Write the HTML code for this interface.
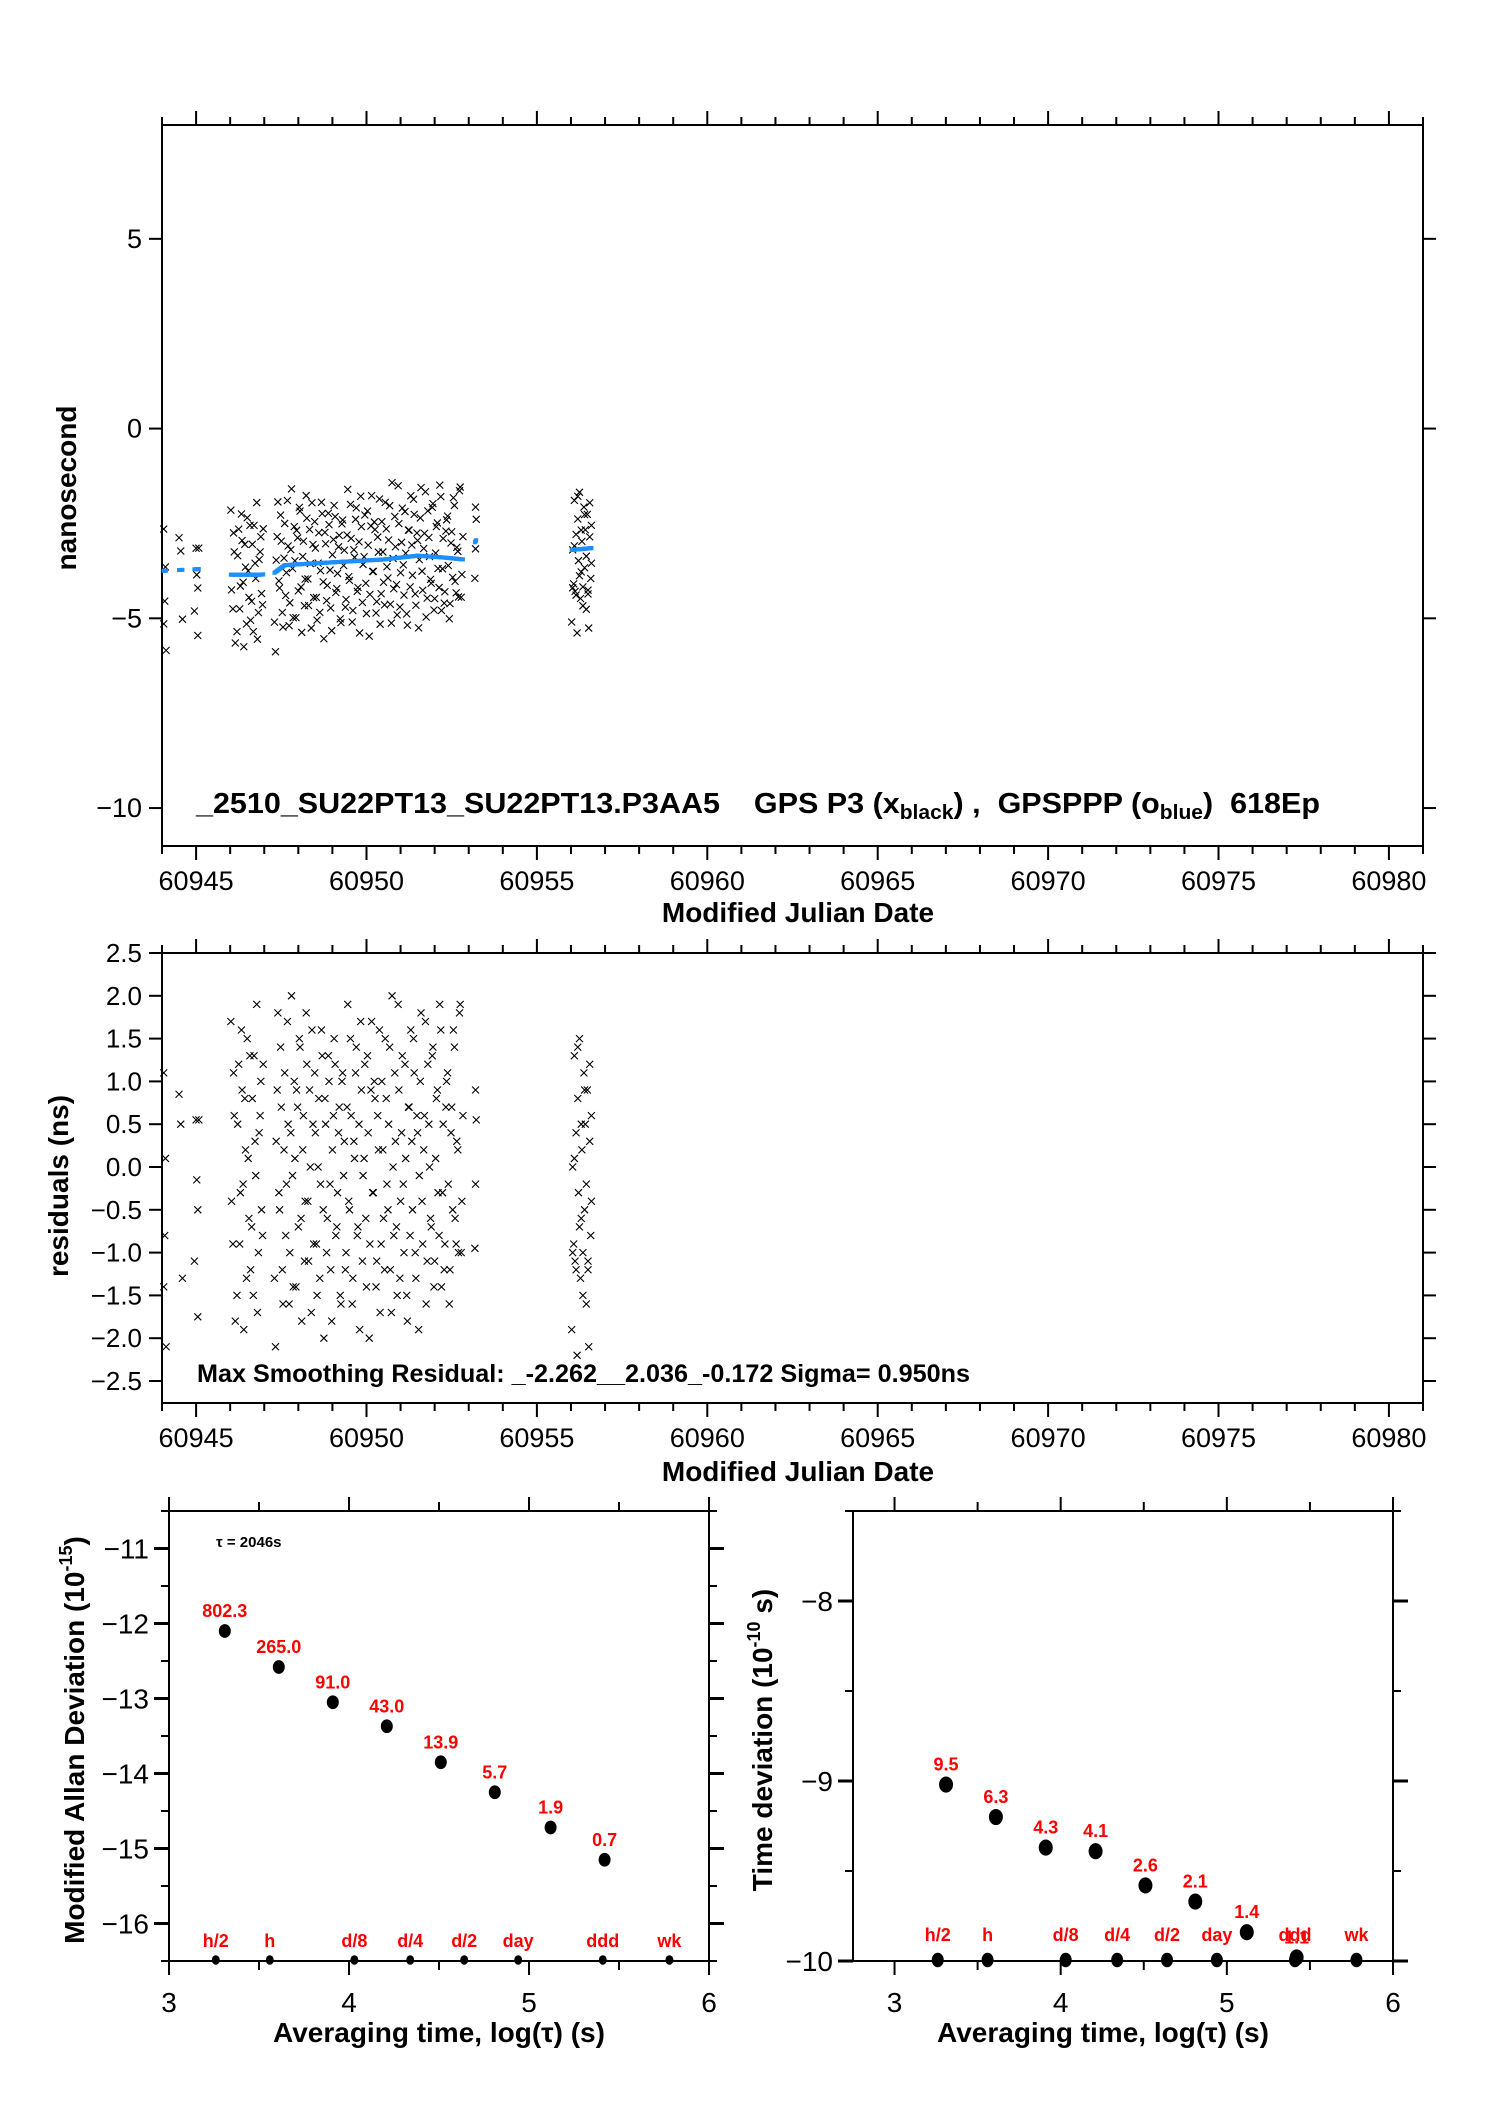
<!DOCTYPE html>
<html><head><meta charset="utf-8"><style>
html,body{margin:0;padding:0;background:#fff}
svg{display:block}
text{font-family:"Liberation Sans",sans-serif}
</style></head><body>
<svg id="chart" width="1488" height="2105" viewBox="0 0 1488 2105" xmlns="http://www.w3.org/2000/svg"></svg>
<script>
// ---- data ----
const mjdA=[60944.05,60944.05,60944.1,60944.08,60944.12,60944.5,60944.55,60944.6,60945.0,60945.05,60945.02,60945.05,60944.95,60945.08,60953.2,60953.22,60953.2,60953.18];
const resA=[1.1,-1.4,0.1,-0.8,-2.1,0.85,0.5,-1.3,0.55,-0.5,-0.15,-1.75,-1.1,0.55,0.9,0.55,-0.2,-0.95];
const mjdB=[60946.02,60946.08,60946.12,60946.2,60946.25,60946.3,60946.35,60946.4,60946.45,60946.5,
60946.55,60946.6,60946.65,60946.7,60946.75,60946.8,60946.85,60946.9,60946.95,60947.3,
60947.35,60947.4,60947.45,60947.5,60947.55,60947.6,60947.65,60947.7,60947.75,60947.8,
60947.85,60947.9,60947.95,60948.0,60948.05,60948.1,60948.15,60948.2,60948.25,60948.3,
60948.35,60948.4,60948.45,60948.5,60948.55,60948.6,60948.65,60948.7,60948.75,60948.8,
60948.85,60948.9,60948.95,60949.0,60949.05,60949.1,60949.15,60949.2,60949.25,60949.3,
60949.35,60949.4,60949.45,60949.5,60949.55,60949.6,60949.65,60949.7,60949.75,60949.8,
60949.85,60949.9,60949.95,60950.0,60950.05,60950.1,60950.15,60950.2,60950.25,60950.3,
60950.35,60950.4,60950.45,60950.5,60950.55,60950.6,60950.65,60950.7,60950.75,60950.8,
60950.85,60950.9,60950.95,60951.0,60951.05,60951.1,60951.15,60951.2,60951.25,60951.3,
60951.35,60951.4,60951.45,60951.5,60951.55,60951.6,60951.65,60951.7,60951.75,60951.8,
60951.85,60951.9,60951.95,60952.0,60952.05,60952.1,60952.15,60952.2,60952.25,60952.3,
60952.35,60952.4,60952.45,60952.5,60952.55,60952.6,60952.65,60952.7,60952.75,60952.8];
const resB=[1.7,-0.9,0.6,-1.5,1.2,-0.3,0.9,-1.9,0.2,1.5,
-0.6,-1.2,0.8,1.3,-0.1,-1.7,0.4,1.0,-0.8,-1.3,
0.3,1.8,-0.5,0.7,-1.6,1.1,-0.2,0.5,-1.0,2.0,
-1.4,0.1,0.9,-0.7,1.4,-1.8,0.6,-0.4,1.2,-1.1,
0.0,1.6,-0.9,0.4,-1.5,0.8,-0.2,1.3,-2.0,0.5,
-0.6,1.0,-1.2,0.2,1.5,-0.8,-0.3,0.7,-1.6,1.1,
0.3,-1.0,1.9,-0.5,0.6,-1.3,0.1,1.4,-0.7,-1.9,
0.9,-0.1,1.2,-1.4,0.4,-0.9,1.7,-0.3,0.8,-1.1,
0.2,-1.7,1.0,-0.6,1.5,-0.2,0.5,-1.2,2.0,-0.8,
0.3,-1.5,0.9,-0.4,1.3,-1.0,0.1,-1.8,0.7,1.6,
-0.5,1.1,-1.3,0.4,-0.1,1.8,-0.9,0.6,-1.6,1.2,
0.0,-0.7,1.4,-1.1,0.8,-0.3,1.9,-1.4,0.5,-0.9,
1.0,-0.2,-1.2,0.7,1.6,-0.6,0.3,-1.0,1.9,-0.4];
const mjdC=[60946.04,60946.1,60946.15,60946.22,60946.28,60946.33,60946.38,60946.43,60946.48,60946.53,
60946.58,60946.63,60946.68,60946.73,60946.78,60946.83,60946.88,60946.92,60946.97,60947.33,
60947.38,60947.43,60947.48,60947.53,60947.58,60947.63,60947.68,60947.73,60947.78,60947.83,
60947.88,60947.93,60947.98,60948.03,60948.08,60948.13,60948.18,60948.23,60948.28,60948.33,
60948.38,60948.43,60948.48,60948.53,60948.58,60948.63,60948.68,60948.73,60948.78,60948.83,
60948.88,60948.93,60948.98,60949.03,60949.08,60949.13,60949.18,60949.23,60949.28,60949.33,
60949.38,60949.43,60949.48,60949.53,60949.58,60949.63,60949.68,60949.73,60949.78,60949.83,
60949.88,60949.93,60949.98,60950.03,60950.08,60950.13,60950.18,60950.23,60950.28,60950.33,
60950.38,60950.43,60950.48,60950.53,60950.58,60950.63,60950.68,60950.73,60950.78,60950.83,
60950.88,60950.93,60950.98,60951.03,60951.08,60951.13,60951.18,60951.23,60951.28,60951.33,
60951.38,60951.43,60951.48,60951.53,60951.58,60951.63,60951.68,60951.73,60951.78,60951.83,
60951.88,60951.93,60951.98,60952.03,60952.08,60952.13,60952.18,60952.23,60952.28,60952.33,
60952.38,60952.43,60952.48,60952.53,60952.58,60952.63,60952.68,60952.73,60952.78,60952.83];
const resC=[-0.4,1.1,-1.8,0.5,-0.9,1.6,-0.2,0.8,-1.3,0.1,
1.3,-0.7,-1.5,0.3,1.9,-1.0,0.6,-0.5,1.2,-2.1,
0.9,-0.3,1.4,-1.2,0.2,-0.8,1.7,-1.6,0.4,-0.1,
1.0,-1.4,0.7,1.5,-0.6,0.2,-1.1,1.8,-0.4,0.9,
-1.7,0.5,1.1,-0.9,0.0,-1.3,1.6,-0.5,0.8,-1.0,
1.3,-0.2,-1.8,0.6,1.2,-0.7,0.4,-1.5,1.0,-0.1,
-1.2,0.7,-0.4,1.5,-1.6,0.3,1.1,-0.8,0.5,1.7,
-1.1,0.1,-0.6,1.3,-2.0,0.9,-0.3,1.0,-1.4,0.6,
1.6,-0.9,0.2,-1.2,0.8,-0.5,1.4,-1.7,0.0,1.1,
-0.7,1.9,-1.3,0.4,-0.2,1.2,-1.5,0.7,-0.8,0.3,
1.5,-1.0,0.6,-1.9,1.0,-0.4,0.2,1.7,-1.1,0.5,
-0.6,1.3,-1.4,0.1,0.9,-0.8,1.6,-0.3,-1.2,0.7,
1.1,-1.6,0.4,-0.5,1.4,-0.9,0.2,1.8,-1.0,0.6];
const mjdD=[60956.02,60956.05,60956.08,60956.1,60956.12,60956.15,60956.18,60956.2,60956.22,60956.25,60956.28,60956.3,60956.32,60956.35,60956.38,60956.4,60956.42,60956.45,60956.48,60956.5,60956.52,60956.55,60956.58,60956.6,60956.05,60956.1,60956.15,60956.2,60956.25,60956.3,60956.35,60956.4,60956.45,60956.5,60956.55,60956.6];
const resD=[-1.9,0.0,-0.9,1.3,-1.1,0.4,-2.2,0.8,-0.3,1.5,-1.3,-0.6,0.2,-1.0,1.1,-0.5,0.5,-1.6,0.9,-1.2,-2.1,0.3,-0.8,0.6,-1.0,0.1,-1.2,1.4,-0.7,0.5,-1.5,0.9,-0.2,-1.1,1.2,-0.4];
const smMjd=[60944,60945.1,60946,60946.9,60947.3,60947.6,60948.5,60949.5,60950.5,60951.5,60952.3,60952.85,60953.25,60956,60956.6];
const smVal=[-3.75,-3.7,-3.85,-3.85,-3.8,-3.6,-3.55,-3.5,-3.45,-3.35,-3.4,-3.45,-2.9,-3.2,-3.15];
const mjdTicks=[60945,60950,60955,60960,60965,60970,60975,60980];
const nsTicks=[5,0,-5,-10];
const resTicks=[2.5,2.0,1.5,1.0,0.5,0.0,-0.5,-1.0,-1.5,-2.0,-2.5];
const logTau=[3.31,3.61,3.91,4.21,4.51,4.81,5.12,5.42];
const mdev=[-12.1,-12.58,-13.05,-13.37,-13.85,-14.25,-14.72,-15.15];
const mdevLabels=["802.3","265.0","91.0","43.0","13.9","5.7","1.9","0.7"];
const tdev=[-9.02,-9.2,-9.37,-9.39,-9.58,-9.67,-9.84,-9.98];
const tdevLabels=["9.5","6.3","4.3","4.1","2.6","2.1","1.4","1.1"];
const markPos=[3.26,3.56,4.03,4.34,4.64,4.94,5.41,5.78];
const markNames=["h/2","h","d/8","d/4","d/2","day","ddd","wk"];
const mdevTicks=[-11,-12,-13,-14,-15,-16];
const tdevTicks=[-8,-9,-10];
const logTicks=[3,4,5,6];

// ---- helpers ----
const svg=document.getElementById('chart');
const NS='http://www.w3.org/2000/svg';
function el(tag,attrs,parent){const e=document.createElementNS(NS,tag);for(const k in attrs)e.setAttribute(k,attrs[k]);(parent||svg).appendChild(e);return e;}
function txt(s,x,y,size,opts,parent){const e=el('text',Object.assign({x:x,y:y,'font-size':size},opts||{}),parent);e.textContent=s;return e;}
function lin(d0,d1,p0,p1){return v=>p0+(v-d0)*(p1-p0)/(d1-d0);}
function interp(x){for(let i=0;i<smMjd.length-1;i++){if(x<=smMjd[i+1])return smVal[i]+(smVal[i+1]-smVal[i])*(x-smMjd[i])/(smMjd[i+1]-smMjd[i]);}return smVal[smVal.length-1];}
function cross(g,x,y,s){el('path',{d:`M${x-s},${y-s}L${x+s},${y+s}M${x-s},${y+s}L${x+s},${y-s}`,stroke:'#000','stroke-width':1.1,fill:'none'},g);}

function frame(g,L,T,R,B){el('rect',{x:L,y:T,width:R-L,height:B-T,fill:'none',stroke:'#000','stroke-width':2},g);}
function mjdAxis(g,X,T,B){
  for(let d=60944;d<=60981;d++){const x=X(d);const maj=d%5===0;const len=maj?14:8;
    el('line',{x1:x,y1:T,x2:x,y2:T-len,stroke:'#000','stroke-width':2},g);
    el('line',{x1:x,y1:B,x2:x,y2:B+len,stroke:'#000','stroke-width':2},g);}
  mjdTicks.forEach(t=>{const l=txt(String(t),X(t),B+44,27,{'text-anchor':'middle'},g);
    
    });
}
const allMjd=mjdA.concat(mjdB,mjdC,mjdD), allRes=resA.concat(resB,resC,resD);

// ---- Panel 1 ----
(function(){
  const L=162,R=1423,T=125,B=846;
  const X=lin(60944,60981,L,R), Y=lin(8,-11,T,B);
  const g=el('g',{});
  
  
  frame(g,L,T,R,B);
  mjdAxis(g,X,T,B);
  nsTicks.forEach(v=>{const y=Y(v);
    el('line',{x1:L,y1:y,x2:L-13,y2:y,stroke:'#000','stroke-width':2},g);
    el('line',{x1:R,y1:y,x2:R+13,y2:y,stroke:'#000','stroke-width':2},g);
    const l=txt(v<0?'\u2212'+Math.abs(v):String(v),L-20,y+9,27,{'text-anchor':'end'},g);
    
    });
  const pts=el('g',{},g);
  
  
  allMjd.forEach((m,i)=>cross(pts,X(m),Y(interp(m)+allRes[i]),3.5));
  const bl=el('g',{},g);
  
  
  allMjd.forEach(m=>{el('rect',{x:X(m)-2,y:Y(interp(m))-2,width:4,height:4,fill:'#1e8fff'},bl);});
  const t=el('text',{x:196,y:813,'font-size':29,'font-weight':'bold',textLength:1124,lengthAdjust:'spacingAndGlyphs'},g);
  
  
  t.innerHTML='_2510_SU22PT13_SU22PT13.P3AA5&#160;&#160;&#160;&#160;GPS P3 (x<tspan font-size="20" dy="6">black</tspan><tspan dy="-6">) ,&#160;&#160;GPSPPP (o</tspan><tspan font-size="20" dy="6">blue</tspan><tspan dy="-6">)&#160;&#160;618Ep</tspan>';
  const yl=txt('nanosecond',0,0,28,{'font-weight':'bold','text-anchor':'middle',transform:'translate(76,488) rotate(-90)'},g);
  
  
  const xl=txt('Modified Julian Date',798,922,28,{'font-weight':'bold','text-anchor':'middle'},g);
  
  
})();

// ---- Panel 2 ----
(function(){
  const L=162,R=1423,T=953,B=1403;
  const X=lin(60944,60981,L,R), Y=lin(2.5,-2.757,T,B);
  const g=el('g',{});
  
  
  frame(g,L,T,R,B);
  mjdAxis(g,X,T,B);
  resTicks.forEach(v=>{const y=Y(v);
    el('line',{x1:L,y1:y,x2:L-13,y2:y,stroke:'#000','stroke-width':2},g);
    el('line',{x1:R,y1:y,x2:R+13,y2:y,stroke:'#000','stroke-width':2},g);
    const s=(v<0?'\u2212':'')+Math.abs(v).toFixed(1);
    const l=txt(s,L-20,y+9,26,{'text-anchor':'end'},g);
    
    });
  const pts=el('g',{},g);
  
  
  allMjd.forEach((m,i)=>cross(pts,X(m),Y(allRes[i]),3.5));
  const t=txt('Max Smoothing Residual: _-2.262__2.036_-0.172  Sigma= 0.950ns',197,1382,25,{'font-weight':'bold',textLength:773,lengthAdjust:'spacingAndGlyphs'},g);
  
  
  const yl=txt('residuals (ns)',0,0,28,{'font-weight':'bold','text-anchor':'middle',transform:'translate(68,1186) rotate(-90)'},g);
  
  
  const xl=txt('Modified Julian Date',798,1481,28,{'font-weight':'bold','text-anchor':'middle'},g);
  
  
})();

// ---- lower panels ----
function devPanel(name,L,R,x0,x1,y0,y1,ticks,minor,vals,labels,dotR,markR,markDy,ylab,ylx){
  const T=1511,B=1961;
  const X=lin(x0,x1,L,R), Y=lin(y1,y0,T,B);
  const g=el('g',{});
  
  
  frame(g,L,T,R,B);
  for(let v=3;v<=6.001;v+=0.5){const x=X(v);const len=(Math.abs(v-Math.round(v))<1e-6)?14:9;
    el('line',{x1:x,y1:T,x2:x,y2:T-len,stroke:'#000','stroke-width':2},g);
    el('line',{x1:x,y1:B,x2:x,y2:B+len,stroke:'#000','stroke-width':2},g);}
  logTicks.forEach(v=>{const l=txt(String(v),X(v),2012,28,{'text-anchor':'middle'},g);
    
    });
  for(let v=y0;v<=y1+1e-6;v+=minor){const y=Y(v);const maj=ticks.some(t=>Math.abs(t-v)<1e-6);
    el('line',{x1:L,y1:y,x2:L-(maj?15:8),y2:y,stroke:'#000','stroke-width':maj?3:2},g);
    el('line',{x1:R,y1:y,x2:R+(maj?15:8),y2:y,stroke:'#000','stroke-width':maj?3:2},g);}
  ticks.forEach(v=>{const l=txt('\u2212'+Math.abs(v),L-20,Y(v)+10,28,{'text-anchor':'end'},g);
    
    });
  logTau.forEach((t,i)=>{
    const c=el('ellipse',{cx:X(t),cy:Y(vals[i]),rx:dotR,ry:dotR*1.15,fill:'#000'},g);
    
    
    const l=txt(labels[i],X(t),Y(vals[i])-14,18,{'text-anchor':'middle','font-weight':'bold',fill:'#ff0000'},g);
    
    });
  markPos.forEach((m,i)=>{
    el('ellipse',{cx:X(m),cy:B-1,rx:markR,ry:markR*1.2,fill:'#000'},g);
    const l=txt(markNames[i],X(m),B+markDy,18,{'text-anchor':'middle','font-weight':'bold',fill:'#ff0000'},g);
    
    });
  const xl=txt('Averaging time, log(\u03c4) (s)',(L+R)/2+(name==='tdev-panel'?-20:0),2042,28,{'font-weight':'bold','text-anchor':'middle'},g);
  
  
  const yl=el('text',{x:0,y:0,'font-size':28,'font-weight':'bold','text-anchor':'middle',transform:`translate(${ylx},1740) rotate(-90)`},g);
  
  
  yl.innerHTML=ylab;
  return g;
}
const g3=devPanel('mdev-panel',169,709,3,6,-16.5,-10.5,mdevTicks,0.5,mdev,mdevLabels,6,4,-14,
 'Modified Allan Deviation (10<tspan font-size="18" dy="-12">-15</tspan><tspan dy="12">)</tspan>',84);
const tau=txt('\u03c4 = 2046s',216,1547,15,{'font-weight':'bold'},g3);


devPanel('tdev-panel',853,1393,2.75,6,-10,-7.5,tdevTicks,0.5,tdev,tdevLabels,7,6,-20,
 'Time deviation (10<tspan font-size="18" dy="-12">-10</tspan><tspan dy="12"> s)</tspan>',772);
</script>
</body></html>
